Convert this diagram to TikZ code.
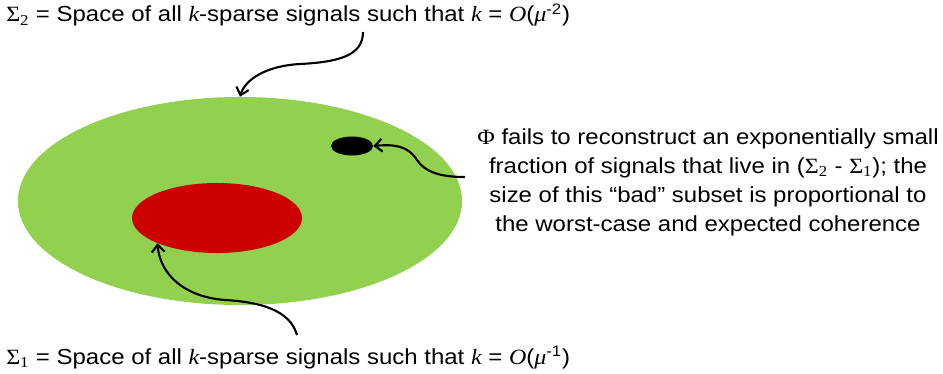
\documentclass[tikz,border=0pt]{standalone}
\usepackage{fontspec}
\setmainfont{Liberation Sans}[FakeStretch=1.1]
\newfontfamily\tms{Liberation Serif}[FakeStretch=1.1]
\usetikzlibrary{arrows.meta, positioning, shapes.geometric}
\definecolor{meadow}{HTML}{92D050}
\definecolor{crimson}{HTML}{CC0000}
\newcommand{\Sig}[1]{{\tms Σ}\textsubscript{\tms #1}}
\newcommand{\vk}{{\tms\itshape k}}
\begin{document}
\begin{tikzpicture}[
      x=0.025cm, y=-0.025cm,
      region/.style={ellipse, draw=none, inner sep=0pt},
      lbl/.style={inner sep=0pt, font=\fontsize{15.5pt}{20.6pt}\selectfont},
      arr/.style={-{Straight Barb[length=1.8mm, width=3.2mm]}, line width=1.5pt, black}
    ]
    \useasboundingbox (0,0) rectangle (943,374);

    % Regions
    \node[region, fill=meadow, minimum width=11.1cm, minimum height=5.2cm] (outer) at (240,201) {};
    \node[region, fill=crimson, minimum width=4.25cm, minimum height=1.75cm] (inner) at (217,218) {};
    \node[region, fill=black, minimum width=1.05cm, minimum height=0.475cm] (bad) at (352,146) {};

    % Labels
    \node[lbl, anchor=base west] (sigtwo) at (6,22)
      {\Sig{2} = Space of all \vk-sparse signals such that \vk{} = {\tms\itshape O}({\tms\itshape μ}\textsuperscript{-2})};
    \node[lbl, anchor=base west] (sigone) at (6,364)
      {\Sig{1} = Space of all \vk-sparse signals such that \vk{} = {\tms\itshape O}({\tms\itshape μ}\textsuperscript{-1})};
    \node[lbl, align=center] (note) at (708,182)
      {{\tms Φ} fails to reconstruct an exponentially small\\
       fraction of signals that live in ({\Sig{2}} - {\Sig{1}}); the\\
       size of this “bad” subset is proportional to\\
       the worst-case and expected coherence};

    % Connector ends
    \coordinate (s2src) at (363,32);
    \coordinate (s1src) at (297,335);
    \coordinate (badsrc) at (465,177);

    \draw[arr] (s2src) .. controls (363,55) and (340,62) .. (300,64)
                       .. controls (265,66) and (245,80) .. (outer.north);
    \draw[arr] (s1src) .. controls (290,310) and (260,302) .. (225,300)
                       .. controls (185,297) and (160,275) .. (inner.203);
    \draw[arr] (badsrc) .. controls (440,177) and (425,172) .. (417,160)
                        .. controls (408,146) and (395,144) .. (bad.east);
  \end{tikzpicture}
\end{document}
